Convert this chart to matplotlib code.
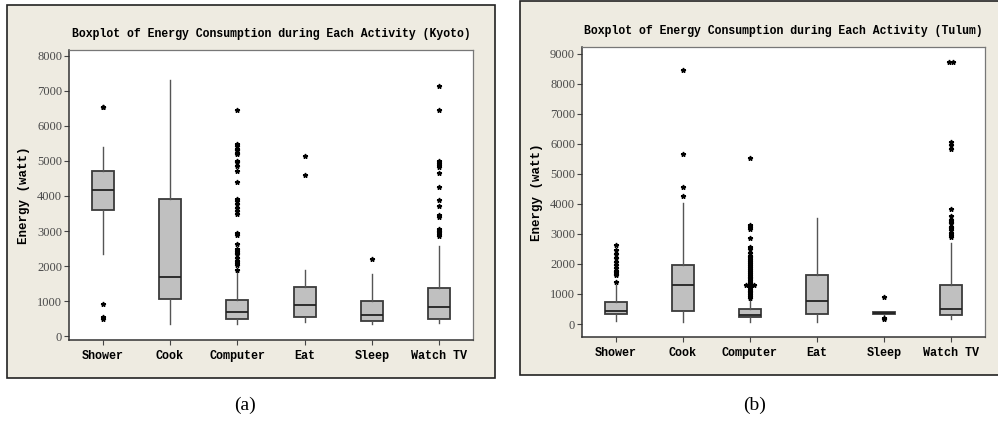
import matplotlib.pyplot as plt
from matplotlib.patches import Rectangle
from collections import Counter

activities = ["Shower", "Cook", "Computer", "Eat", "Sleep", "Watch TV"]

# Kyoto box stats (watt)
kyoto_q1 = [3605, 1045, 475, 530, 435, 500]
kyoto_med = [4175, 1700, 690, 900, 590, 825]
kyoto_q3 = [4700, 3910, 1025, 1395, 1000, 1375]
kyoto_lo = [2335, 340, 340, 410, 340, 360]
kyoto_hi = [5390, 7315, 1860, 1880, 1765, 2570]
kyoto_out = [
    [6550, 6540, 910, 530, 475],
    [],
    [6450, 5480, 5420, 5350, 5300, 5220, 5200, 4990, 4960, 4850, 4720, 4390,
     3920, 3850, 3780, 3650, 3580, 3490, 2950, 2880, 2640, 2480, 2430, 2380,
     2330, 2220, 2150, 2100, 2030, 1900],
    [5150, 4600],
    [2200],
    [7150, 6460, 4990, 4940, 4880, 4840, 4650, 4250, 3890, 3710, 3450, 3400,
     3060, 3010, 2970, 2920, 2860],
]

# Tulum box stats (watt)
tulum_q1 = [332, 443, 233, 333, 330, 288]
tulum_med = [442, 1286, 300, 765, 355, 488]
tulum_q3 = [742, 1951, 499, 1630, 385, 1286]
tulum_lo = [110, 78, 66, 78, 300, 155]
tulum_hi = [1296, 4013, 800, 3514, 400, 2683]
tulum_out = [
    [2626, 2460, 2330, 2190, 2070, 1960, 1850, 1780, 1740, 1680, 1630, 1406],
    [8470, 5665, 4557, 4246],
    [5532, 3290, 3230, 3150, 2850, 2570, 2500, 2350, 2280, 2220, 2150, 2090,
     2030, 1970, 1900, 1840, 1770, 1700, 1640, 1580, 1520, 1460, 1400, 1340,
     1290, 1290, 1290, 1230, 1170, 1110, 1050, 990, 930, 880],
    [],
    [910, 200, 170],
    [8714, 8714, 6064, 5950, 5840, 3825, 3603, 3459, 3400, 3350, 3240, 3180,
     3130, 3020, 2960, 2900],
]

BG = "#eeebe1"
mono = "Liberation Mono"
serif = "Liberation Serif"

fig = plt.figure(figsize=(9.98, 4.26), dpi=100)
W, H = 998.0, 426.0

# panel frames
fig.patches.append(Rectangle((7 / W, 1 - 378 / H), 488 / W, 373 / H,
                             transform=fig.transFigure, facecolor=BG,
                             edgecolor="#222222", lw=1.2, zorder=-10))
fig.patches.append(Rectangle((520 / W, 1 - 375 / H), 490 / W, 374 / H,
                             transform=fig.transFigure, facecolor=BG,
                             edgecolor="#222222", lw=1.2, zorder=-10))


def draw(rect, q1, med, q3, lo, hi, outs, ylim, yticks, title):
    ax = fig.add_axes(rect)
    ax.set_zorder(5)
    stats = []
    for i in range(len(activities)):
        stats.append(dict(med=med[i], q1=q1[i], q3=q3[i], whislo=lo[i],
                          whishi=hi[i], fliers=[], label=activities[i]))
    ax.bxp(stats, positions=range(1, 7), widths=0.33, patch_artist=True,
           showcaps=False, showfliers=False,
           boxprops=dict(facecolor="#c0c0c0", edgecolor="#3a3a3a", lw=1.3),
           medianprops=dict(color="#222222", lw=1.3),
           whiskerprops=dict(color="#555555", lw=1.0))
    # outliers, identical values drawn side by side
    for i, vals in enumerate(outs):
        cnt = Counter(vals)
        seen = Counter()
        for v in vals:
            k = cnt[v]
            off = (seen[v] - (k - 1) / 2) * 0.06
            seen[v] += 1
            ax.plot(i + 1 + off, v, marker="*", ms=3.5, color="black",
                    mec="black", ls="none")
    ax.set_xlim(0.5, 6.5)
    ax.set_ylim(*ylim)
    ax.set_yticks(yticks)
    ax.set_yticklabels([str(t) for t in yticks], family=serif, fontsize=9,
                       color="#4a4a4a")
    ax.set_xticks(range(1, 7))
    ax.set_xticklabels(activities, family=mono, fontsize=8.5,
                       fontweight="bold")
    ax.tick_params(axis="both", direction="out", length=3.5, width=0.8,
                   color="#444444", pad=1.5)
    ax.tick_params(axis="x", pad=4)
    for s in ["left", "bottom"]:
        ax.spines[s].set_color("#333333")
        ax.spines[s].set_linewidth(1.1)
    for s in ["top", "right"]:
        ax.spines[s].set_color("#777777")
        ax.spines[s].set_linewidth(0.9)
    ax.set_title(title, family=mono, fontsize=8.3, fontweight="bold", pad=9)
    ax.set_ylabel("Energy (watt)", family=mono, fontsize=9, fontweight="bold")
    ax.yaxis.set_label_coords(-0.097, 0.5)
    return ax


draw([69 / W, 1 - 340 / H, 404 / W, 290 / H],
     kyoto_q1, kyoto_med, kyoto_q3, kyoto_lo, kyoto_hi, kyoto_out,
     (-114, 8171), list(range(0, 8001, 1000)),
     "Boxplot of Energy Consumption during Each Activity (Kyoto)")
draw([582 / W, 1 - 337 / H, 403 / W, 290 / H],
     tulum_q1, tulum_med, tulum_q3, tulum_lo, tulum_hi, tulum_out,
     (-432, 9222), list(range(0, 9001, 1000)),
     "Boxplot of Energy Consumption during Each Activity (Tulum)")

fig.text(245 / W, 1 - 405 / H, "(a)", family=serif, fontsize=14,
         ha="center", va="center")
fig.text(755 / W, 1 - 405 / H, "(b)", family=serif, fontsize=14,
         ha="center", va="center")

fig.savefig("out.png", dpi=100)
